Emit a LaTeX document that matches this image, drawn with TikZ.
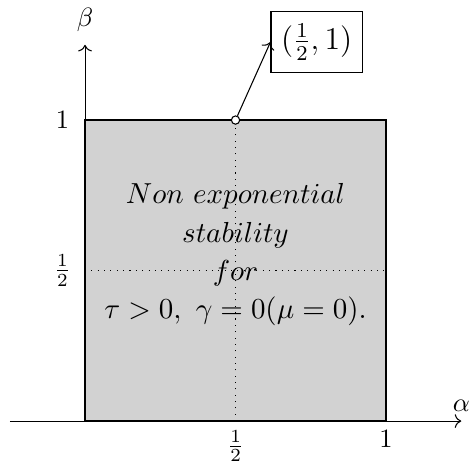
\documentclass[tikz,border=0pt]{standalone}
\usepackage{amsmath}
\usetikzlibrary{arrows.meta,positioning}

\begin{document}
\begin{tikzpicture}[
    x=4cm, y=4cm,
    region/.style={draw=black, thick, fill=gray!35},
    guide/.style={dotted, thin},
    axis/.style={->, thin},
    callout/.style={rectangle, draw=black, thin, inner xsep=3.8pt, inner ysep=4.5pt, font=\large},
    mark pt/.style={circle, draw=black, thin, fill=white, inner sep=0pt, minimum size=1.1mm},
    note/.style={align=center, font=\fontsize{10.8}{14.4}\selectfont}
]
\useasboundingbox (-0.2825,-0.1395) rectangle (1.279,1.399);

% stability region
\draw[region] (0,0) rectangle (1,1);
\draw[guide] (0.5,0) -- (0.5,1);
\draw[guide] (0,0.5) -- (1,0.5);

% axes
\coordinate (o) at (0,0);
\coordinate (xs) at (-0.25,0);
\coordinate (xe) at (1.25,0);
\coordinate (ye) at (0,1.25);
\draw[axis] (xs) -- (xe);
\draw[axis] (o) -- (ye);
\node[above] (alpha) at (xe) {$\alpha$};
\node[above=1.5pt] (beta) at (ye) {$\beta$};

% ticks
\node (y1) at (-0.075,1) {$1$};
\node (yh) at (-0.075,0.5) {$\frac{1}{2}$};
\node[below] (xh) at (0.5,0) {$\frac{1}{2}$};
\node[below] (x1) at (1,0) {$1$};

% text
\node[note] (txt) at (0.5,0.553) {$Non\ exponential$\\ $stability$\\ $for$\\ $\tau>0,\ \gamma=0(\mu=0).$};

% point
\node[mark pt] (pt) at (0.5,1) {};
\node[callout, anchor=west] (lab) at (0.616,1.259) {$(\frac{1}{2},1)$};
\draw[->, thin] (pt) -- (lab.west);
\end{tikzpicture}
\end{document}
